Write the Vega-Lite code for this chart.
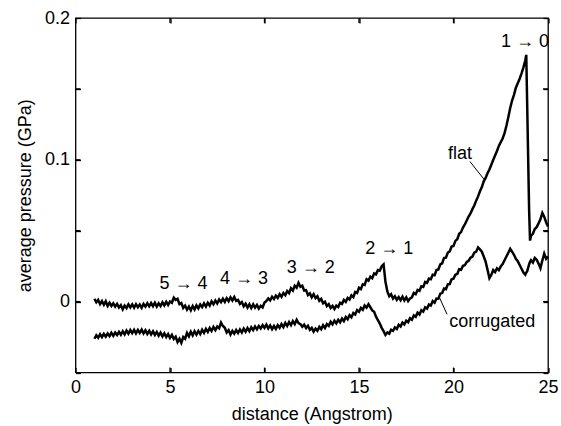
{
  "$schema": "https://vega.github.io/schema/vega-lite/v6.json",
  "width": 472.5,
  "height": 354.5,
  "autosize": {"type": "none"},
  "padding": {"left": 75.5, "top": 18, "right": 13, "bottom": 53.5},
  "background": "white",
  "config": {
    "view": {"stroke": "black", "strokeWidth": 1.3},
    "font": "Liberation Sans",
    "axis": {
      "grid": false,
      "labelFlush": false,
      "domain": false,
      "tickColor": "black",
      "tickWidth": 1.3,
      "tickSize": 5,
      "offset": -5,
      "labelColor": "black",
      "titleColor": "black",
      "labelFont": "Liberation Sans",
      "titleFont": "Liberation Sans",
      "labelFontSize": 18,
      "titleFontSize": 18,
      "titleFontWeight": "normal"
    }
  },
  "datasets": {
    "curves": [
      {"x":1.0,"flat":0.0020,"corrugated":-0.0262},
      {"x":1.1,"flat":-0.0005,"corrugated":-0.0238},
      {"x":1.2,"flat":0.0012,"corrugated":-0.0255},
      {"x":1.3,"flat":-0.0018,"corrugated":-0.0230},
      {"x":1.4,"flat":0.0004,"corrugated":-0.0251},
      {"x":1.5,"flat":-0.0022,"corrugated":-0.0228},
      {"x":1.6,"flat":0.0003,"corrugated":-0.0247},
      {"x":1.7,"flat":-0.0030,"corrugated":-0.0225},
      {"x":1.8,"flat":-0.0008,"corrugated":-0.0244},
      {"x":1.9,"flat":-0.0031,"corrugated":-0.0219},
      {"x":2.0,"flat":-0.0012,"corrugated":-0.0241},
      {"x":2.1,"flat":-0.0035,"corrugated":-0.0218},
      {"x":2.2,"flat":-0.0016,"corrugated":-0.0236},
      {"x":2.3,"flat":-0.0042,"corrugated":-0.0213},
      {"x":2.4,"flat":-0.0025,"corrugated":-0.0234},
      {"x":2.5,"flat":-0.0055,"corrugated":-0.0209},
      {"x":2.6,"flat":-0.0028,"corrugated":-0.0231},
      {"x":2.7,"flat":-0.0046,"corrugated":-0.0204},
      {"x":2.8,"flat":-0.0019,"corrugated":-0.0226},
      {"x":2.9,"flat":-0.0041,"corrugated":-0.0201},
      {"x":3.0,"flat":-0.0020,"corrugated":-0.0222},
      {"x":3.1,"flat":-0.0043,"corrugated":-0.0199},
      {"x":3.2,"flat":-0.0018,"corrugated":-0.0224},
      {"x":3.3,"flat":-0.0040,"corrugated":-0.0200},
      {"x":3.4,"flat":-0.0021,"corrugated":-0.0221},
      {"x":3.5,"flat":-0.0044,"corrugated":-0.0198},
      {"x":3.6,"flat":-0.0017,"corrugated":-0.0225},
      {"x":3.7,"flat":-0.0036,"corrugated":-0.0203},
      {"x":3.8,"flat":-0.0011,"corrugated":-0.0228},
      {"x":3.9,"flat":-0.0033,"corrugated":-0.0206},
      {"x":4.0,"flat":-0.0010,"corrugated":-0.0231},
      {"x":4.1,"flat":-0.0032,"corrugated":-0.0209},
      {"x":4.2,"flat":-0.0008,"corrugated":-0.0235},
      {"x":4.3,"flat":-0.0035,"corrugated":-0.0214},
      {"x":4.4,"flat":-0.0012,"corrugated":-0.0240},
      {"x":4.5,"flat":-0.0031,"corrugated":-0.0219},
      {"x":4.6,"flat":-0.0005,"corrugated":-0.0246},
      {"x":4.7,"flat":-0.0027,"corrugated":-0.0224},
      {"x":4.8,"flat":-0.0002,"corrugated":-0.0250},
      {"x":4.9,"flat":-0.0024,"corrugated":-0.0229},
      {"x":5.0,"flat":0.0001,"corrugated":-0.0256},
      {"x":5.1,"flat":-0.0008,"corrugated":-0.0235},
      {"x":5.2,"flat":0.0028,"corrugated":-0.0264},
      {"x":5.3,"flat":0.0012,"corrugated":-0.0248},
      {"x":5.4,"flat":0.0020,"corrugated":-0.0285},
      {"x":5.5,"flat":-0.0018,"corrugated":-0.0262},
      {"x":5.6,"flat":-0.0010,"corrugated":-0.0291},
      {"x":5.7,"flat":-0.0045,"corrugated":-0.0250},
      {"x":5.8,"flat":-0.0028,"corrugated":-0.0262},
      {"x":5.9,"flat":-0.0057,"corrugated":-0.0221},
      {"x":6.0,"flat":-0.0035,"corrugated":-0.0245},
      {"x":6.1,"flat":-0.0062,"corrugated":-0.0212},
      {"x":6.2,"flat":-0.0031,"corrugated":-0.0238},
      {"x":6.3,"flat":-0.0055,"corrugated":-0.0209},
      {"x":6.4,"flat":-0.0027,"corrugated":-0.0233},
      {"x":6.5,"flat":-0.0048,"corrugated":-0.0207},
      {"x":6.6,"flat":-0.0020,"corrugated":-0.0229},
      {"x":6.7,"flat":-0.0039,"corrugated":-0.0199},
      {"x":6.8,"flat":-0.0012,"corrugated":-0.0221},
      {"x":6.9,"flat":-0.0035,"corrugated":-0.0192},
      {"x":7.0,"flat":-0.0008,"corrugated":-0.0214},
      {"x":7.1,"flat":-0.0028,"corrugated":-0.0186},
      {"x":7.2,"flat":0.0002,"corrugated":-0.0207},
      {"x":7.3,"flat":-0.0019,"corrugated":-0.0178},
      {"x":7.4,"flat":0.0008,"corrugated":-0.0201},
      {"x":7.5,"flat":-0.0013,"corrugated":-0.0176},
      {"x":7.6,"flat":0.0015,"corrugated":-0.0188},
      {"x":7.7,"flat":-0.0004,"corrugated":-0.0148},
      {"x":7.8,"flat":0.0020,"corrugated":-0.0172},
      {"x":7.9,"flat":-0.0002,"corrugated":-0.0185},
      {"x":8.0,"flat":0.0024,"corrugated":-0.0218},
      {"x":8.1,"flat":0.0003,"corrugated":-0.0201},
      {"x":8.2,"flat":0.0030,"corrugated":-0.0232},
      {"x":8.3,"flat":0.0008,"corrugated":-0.0207},
      {"x":8.4,"flat":0.0032,"corrugated":-0.0226},
      {"x":8.5,"flat":0.0005,"corrugated":-0.0201},
      {"x":8.6,"flat":0.0012,"corrugated":-0.0222},
      {"x":8.7,"flat":-0.0016,"corrugated":-0.0197},
      {"x":8.8,"flat":-0.0003,"corrugated":-0.0218},
      {"x":8.9,"flat":-0.0033,"corrugated":-0.0191},
      {"x":9.0,"flat":-0.0015,"corrugated":-0.0213},
      {"x":9.1,"flat":-0.0042,"corrugated":-0.0187},
      {"x":9.2,"flat":-0.0019,"corrugated":-0.0208},
      {"x":9.3,"flat":-0.0045,"corrugated":-0.0181},
      {"x":9.4,"flat":-0.0020,"corrugated":-0.0201},
      {"x":9.5,"flat":-0.0043,"corrugated":-0.0175},
      {"x":9.6,"flat":-0.0023,"corrugated":-0.0196},
      {"x":9.7,"flat":-0.0049,"corrugated":-0.0172},
      {"x":9.8,"flat":-0.0030,"corrugated":-0.0190},
      {"x":9.9,"flat":-0.0041,"corrugated":-0.0166},
      {"x":10.0,"flat":-0.0007,"corrugated":-0.0186},
      {"x":10.1,"flat":0.0004,"corrugated":-0.0163},
      {"x":10.2,"flat":0.0022,"corrugated":-0.0189},
      {"x":10.3,"flat":0.0008,"corrugated":-0.0168},
      {"x":10.4,"flat":0.0034,"corrugated":-0.0194},
      {"x":10.5,"flat":0.0018,"corrugated":-0.0172},
      {"x":10.6,"flat":0.0042,"corrugated":-0.0193},
      {"x":10.7,"flat":0.0026,"corrugated":-0.0166},
      {"x":10.8,"flat":0.0053,"corrugated":-0.0185},
      {"x":10.9,"flat":0.0034,"corrugated":-0.0158},
      {"x":11.0,"flat":0.0061,"corrugated":-0.0180},
      {"x":11.1,"flat":0.0045,"corrugated":-0.0150},
      {"x":11.2,"flat":0.0075,"corrugated":-0.0172},
      {"x":11.3,"flat":0.0060,"corrugated":-0.0145},
      {"x":11.4,"flat":0.0094,"corrugated":-0.0166},
      {"x":11.5,"flat":0.0078,"corrugated":-0.0138},
      {"x":11.6,"flat":0.0112,"corrugated":-0.0159},
      {"x":11.7,"flat":0.0098,"corrugated":-0.0128},
      {"x":11.8,"flat":0.0132,"corrugated":-0.0152},
      {"x":11.9,"flat":0.0105,"corrugated":-0.0159},
      {"x":12.0,"flat":0.0112,"corrugated":-0.0178},
      {"x":12.1,"flat":0.0078,"corrugated":-0.0163},
      {"x":12.2,"flat":0.0081,"corrugated":-0.0186},
      {"x":12.3,"flat":0.0046,"corrugated":-0.0170},
      {"x":12.4,"flat":0.0058,"corrugated":-0.0199},
      {"x":12.5,"flat":0.0030,"corrugated":-0.0185},
      {"x":12.6,"flat":0.0052,"corrugated":-0.0212},
      {"x":12.7,"flat":0.0024,"corrugated":-0.0191},
      {"x":12.8,"flat":0.0038,"corrugated":-0.0206},
      {"x":12.9,"flat":0.0006,"corrugated":-0.0178},
      {"x":13.0,"flat":0.0019,"corrugated":-0.0194},
      {"x":13.1,"flat":-0.0012,"corrugated":-0.0167},
      {"x":13.2,"flat":-0.0001,"corrugated":-0.0186},
      {"x":13.3,"flat":-0.0032,"corrugated":-0.0159},
      {"x":13.4,"flat":-0.0018,"corrugated":-0.0171},
      {"x":13.5,"flat":-0.0045,"corrugated":-0.0142},
      {"x":13.6,"flat":-0.0030,"corrugated":-0.0161},
      {"x":13.7,"flat":-0.0052,"corrugated":-0.0135},
      {"x":13.8,"flat":-0.0028,"corrugated":-0.0154},
      {"x":13.9,"flat":-0.0038,"corrugated":-0.0128},
      {"x":14.0,"flat":-0.0008,"corrugated":-0.0146},
      {"x":14.1,"flat":-0.0016,"corrugated":-0.0120},
      {"x":14.2,"flat":0.0012,"corrugated":-0.0137},
      {"x":14.3,"flat":-0.0002,"corrugated":-0.0109},
      {"x":14.4,"flat":0.0026,"corrugated":-0.0124},
      {"x":14.5,"flat":0.0015,"corrugated":-0.0096},
      {"x":14.6,"flat":0.0044,"corrugated":-0.0110},
      {"x":14.7,"flat":0.0032,"corrugated":-0.0080},
      {"x":14.8,"flat":0.0068,"corrugated":-0.0091},
      {"x":14.9,"flat":0.0061,"corrugated":-0.0060},
      {"x":15.0,"flat":0.0098,"corrugated":-0.0072},
      {"x":15.1,"flat":0.0088,"corrugated":-0.0044},
      {"x":15.2,"flat":0.0122,"corrugated":-0.0058},
      {"x":15.3,"flat":0.0118,"corrugated":-0.0028},
      {"x":15.4,"flat":0.0158,"corrugated":-0.0042},
      {"x":15.5,"flat":0.0148,"corrugated":-0.0018},
      {"x":15.6,"flat":0.0176,"corrugated":-0.0040},
      {"x":15.7,"flat":0.0165,"corrugated":-0.0062},
      {"x":15.8,"flat":0.0198,"corrugated":-0.0072},
      {"x":15.9,"flat":0.0192,"corrugated":-0.0106},
      {"x":16.0,"flat":0.0222,"corrugated":-0.0130},
      {"x":16.1,"flat":0.0218,"corrugated":-0.0155},
      {"x":16.2,"flat":0.0249,"corrugated":-0.0185},
      {"x":16.3,"flat":0.0262,"corrugated":-0.0208},
      {"x":16.4,"flat":0.0140,"corrugated":-0.0235},
      {"x":16.5,"flat":0.0072,"corrugated":-0.0218},
      {"x":16.6,"flat":0.0038,"corrugated":-0.0226},
      {"x":16.7,"flat":0.0052,"corrugated":-0.0198},
      {"x":16.8,"flat":0.0021,"corrugated":-0.0206},
      {"x":16.9,"flat":0.0038,"corrugated":-0.0182},
      {"x":17.0,"flat":0.0012,"corrugated":-0.0193},
      {"x":17.1,"flat":0.0032,"corrugated":-0.0164},
      {"x":17.2,"flat":0.0010,"corrugated":-0.0175},
      {"x":17.3,"flat":0.0035,"corrugated":-0.0148},
      {"x":17.4,"flat":0.0008,"corrugated":-0.0161},
      {"x":17.5,"flat":0.0030,"corrugated":-0.0134},
      {"x":17.6,"flat":0.0004,"corrugated":-0.0145},
      {"x":17.7,"flat":0.0022,"corrugated":-0.0117},
      {"x":17.8,"flat":0.0030,"corrugated":-0.0128},
      {"x":17.9,"flat":0.0061,"corrugated":-0.0098},
      {"x":18.0,"flat":0.0052,"corrugated":-0.0107},
      {"x":18.1,"flat":0.0082,"corrugated":-0.0078},
      {"x":18.2,"flat":0.0076,"corrugated":-0.0091},
      {"x":18.3,"flat":0.0108,"corrugated":-0.0061},
      {"x":18.4,"flat":0.0104,"corrugated":-0.0071},
      {"x":18.5,"flat":0.0138,"corrugated":-0.0040},
      {"x":18.6,"flat":0.0132,"corrugated":-0.0049},
      {"x":18.7,"flat":0.0162,"corrugated":-0.0021},
      {"x":18.8,"flat":0.0158,"corrugated":-0.0028},
      {"x":18.9,"flat":0.0190,"corrugated":0.0004},
      {"x":19.0,"flat":0.0186,"corrugated":-0.0008},
      {"x":19.1,"flat":0.0222,"corrugated":0.0022},
      {"x":19.2,"flat":0.0226,"corrugated":0.0021},
      {"x":19.3,"flat":0.0262,"corrugated":0.0056},
      {"x":19.4,"flat":0.0270,"corrugated":0.0060},
      {"x":19.5,"flat":0.0308,"corrugated":0.0092},
      {"x":19.6,"flat":0.0310,"corrugated":0.0088},
      {"x":19.7,"flat":0.0346,"corrugated":0.0122},
      {"x":19.8,"flat":0.0354,"corrugated":0.0124},
      {"x":19.9,"flat":0.0388,"corrugated":0.0158},
      {"x":20.0,"flat":0.0392,"corrugated":0.0162},
      {"x":20.1,"flat":0.0428,"corrugated":0.0190},
      {"x":20.2,"flat":0.0440,"corrugated":0.0195},
      {"x":20.3,"flat":0.0478,"corrugated":0.0228},
      {"x":20.4,"flat":0.0490,"corrugated":0.0225},
      {"x":20.5,"flat":0.0522,"corrugated":0.0252},
      {"x":20.6,"flat":0.0545,"corrugated":0.0256},
      {"x":20.7,"flat":0.0572,"corrugated":0.0280},
      {"x":20.8,"flat":0.0600,"corrugated":0.0288},
      {"x":20.9,"flat":0.0622,"corrugated":0.0310},
      {"x":21.0,"flat":0.0652,"corrugated":0.0318},
      {"x":21.1,"flat":0.0678,"corrugated":0.0345},
      {"x":21.2,"flat":0.0712,"corrugated":0.0352},
      {"x":21.3,"flat":0.0742,"corrugated":0.0382},
      {"x":21.4,"flat":0.0778,"corrugated":0.0368},
      {"x":21.5,"flat":0.0808,"corrugated":0.0352},
      {"x":21.6,"flat":0.0848,"corrugated":0.0318},
      {"x":21.7,"flat":0.0872,"corrugated":0.0282},
      {"x":21.8,"flat":0.0905,"corrugated":0.0225},
      {"x":21.9,"flat":0.0932,"corrugated":0.0165},
      {"x":22.0,"flat":0.0965,"corrugated":0.0188},
      {"x":22.1,"flat":0.0998,"corrugated":0.0222},
      {"x":22.2,"flat":0.1030,"corrugated":0.0208},
      {"x":22.3,"flat":0.1062,"corrugated":0.0235},
      {"x":22.4,"flat":0.1098,"corrugated":0.0222},
      {"x":22.5,"flat":0.1125,"corrugated":0.0248},
      {"x":22.6,"flat":0.1150,"corrugated":0.0265},
      {"x":22.7,"flat":0.1188,"corrugated":0.0292},
      {"x":22.8,"flat":0.1240,"corrugated":0.0318},
      {"x":22.9,"flat":0.1300,"corrugated":0.0345},
      {"x":23.0,"flat":0.1365,"corrugated":0.0372},
      {"x":23.1,"flat":0.1418,"corrugated":0.0352},
      {"x":23.2,"flat":0.1458,"corrugated":0.0330},
      {"x":23.3,"flat":0.1508,"corrugated":0.0302},
      {"x":23.4,"flat":0.1540,"corrugated":0.0285},
      {"x":23.5,"flat":0.1572,"corrugated":0.0258},
      {"x":23.6,"flat":0.1610,"corrugated":0.0232},
      {"x":23.7,"flat":0.1652,"corrugated":0.0205},
      {"x":23.8,"flat":0.1702,"corrugated":0.0190},
      {"x":23.85,"flat":0.1740,"corrugated":0.0205},
      {"x":23.9,"flat":0.1380,"corrugated":0.0215},
      {"x":24.0,"flat":0.0650,"corrugated":0.0262},
      {"x":24.05,"flat":0.0430,"corrugated":0.0280},
      {"x":24.1,"flat":0.0465,"corrugated":0.0292},
      {"x":24.2,"flat":0.0478,"corrugated":0.0275},
      {"x":24.3,"flat":0.0512,"corrugated":0.0308},
      {"x":24.4,"flat":0.0525,"corrugated":0.0295},
      {"x":24.5,"flat":0.0552,"corrugated":0.0268},
      {"x":24.6,"flat":0.0580,"corrugated":0.0235},
      {"x":24.7,"flat":0.0625,"corrugated":0.0290},
      {"x":24.8,"flat":0.0598,"corrugated":0.0338},
      {"x":24.9,"flat":0.0560,"corrugated":0.0302},
      {"x":25.0,"flat":0.0530,"corrugated":0.0318}
    ],
    "labels": [
      {"x":5.72,"y":0.0122,"label":"5 → 4"},
      {"x":8.92,"y":0.0157,"label":"4 → 3"},
      {"x":12.45,"y":0.0239,"label":"3 → 2"},
      {"x":16.6,"y":0.0368,"label":"2 → 1"},
      {"x":23.78,"y":0.183,"label":"1 → 0"},
      {"x":20.34,"y":0.104,"label":"flat"},
      {"x":22.05,"y":-0.0143,"label":"corrugated"}
    ],
    "pointers": [
      {"x":20.87,"y":0.0988,"x2":21.63,"y2":0.086},
      {"x":19.23,"y":0.0037,"x2":19.66,"y2":-0.009}
    ],
    "ticks": [
      {"x":5,"x2":5,"y":-0.05,"y2":-0.0465},
      {"x":10,"x2":10,"y":-0.05,"y2":-0.0465},
      {"x":15,"x2":15,"y":-0.05,"y2":-0.0465},
      {"x":20,"x2":20,"y":-0.05,"y2":-0.0465},
      {"x":5,"x2":5,"y":0.2,"y2":0.1965},
      {"x":10,"x2":10,"y":0.2,"y2":0.1965},
      {"x":15,"x2":15,"y":0.2,"y2":0.1965},
      {"x":20,"x2":20,"y":0.2,"y2":0.1965},
      {"x":0,"x2":0.265,"y":0,"y2":0},
      {"x":0,"x2":0.265,"y":0.05,"y2":0.05},
      {"x":0,"x2":0.265,"y":0.1,"y2":0.1},
      {"x":0,"x2":0.265,"y":0.15,"y2":0.15},
      {"x":25,"x2":24.735,"y":0,"y2":0},
      {"x":25,"x2":24.735,"y":0.05,"y2":0.05},
      {"x":25,"x2":24.735,"y":0.1,"y2":0.1},
      {"x":25,"x2":24.735,"y":0.15,"y2":0.15}
    ]
  },
  "resolve": {"axis": {"x": "independent", "y": "independent"}},
  "layer": [
    {
      "data": {"name": "curves"},
      "transform": [{"fold": ["flat", "corrugated"], "as": ["series", "p"]}],
      "mark": {"type": "line", "color": "black", "strokeWidth": 2.5},
      "encoding": {
        "x": {
          "field": "x", "type": "quantitative",
          "scale": {"domain": [0, 25], "nice": false, "zero": false},
          "axis": {
            "orient": "bottom",
            "values": [0, 5, 10, 15, 20, 25],
            "labelPadding": 6,
            "title": "distance (Angstrom)",
            "titlePadding": 9
          }
        },
        "y": {
          "field": "p", "type": "quantitative",
          "scale": {"domain": [-0.05, 0.2], "nice": false, "zero": false},
          "axis": {
            "orient": "left",
            "values": [-0.05, 0, 0.05, 0.1, 0.15, 0.2],
            "labelExpr": "datum.value == 0 ? '0' : (datum.value == 0.1 ? '0.1' : (datum.value == 0.2 ? '0.2' : ''))",
            "labelPadding": 6,
            "title": "average pressure (GPa)",
            "titlePadding": 10
          }
        },
        "detail": {"field": "series"},
        "order": {"field": "x", "type": "quantitative"}
      }
    },
    {
      "data": {"name": "ticks"},
      "mark": {"type": "rule", "color": "black", "strokeWidth": 1.3},
      "encoding": {
        "x": {
          "field": "x", "type": "quantitative",
          "axis": {"orient": "top", "values": [0, 5, 10, 15, 20, 25], "labels": false, "title": null}
        },
        "y": {
          "field": "y", "type": "quantitative",
          "axis": {"orient": "right", "values": [-0.05, 0, 0.05, 0.1, 0.15, 0.2], "labels": false, "title": null}
        },
        "x2": {"field": "x2"},
        "y2": {"field": "y2"}
      }
    },
    {
      "data": {"name": "pointers"},
      "mark": {"type": "rule", "color": "black", "strokeWidth": 1},
      "encoding": {
        "x": {"field": "x", "type": "quantitative", "axis": null},
        "y": {"field": "y", "type": "quantitative", "axis": null},
        "x2": {"field": "x2"},
        "y2": {"field": "y2"}
      }
    },
    {
      "data": {"name": "labels"},
      "mark": {"type": "text", "font": "Liberation Sans", "fontSize": 18, "color": "black", "align": "center", "baseline": "middle"},
      "encoding": {
        "x": {"field": "x", "type": "quantitative", "axis": null},
        "y": {"field": "y", "type": "quantitative", "axis": null},
        "text": {"field": "label"}
      }
    }
  ]
}
